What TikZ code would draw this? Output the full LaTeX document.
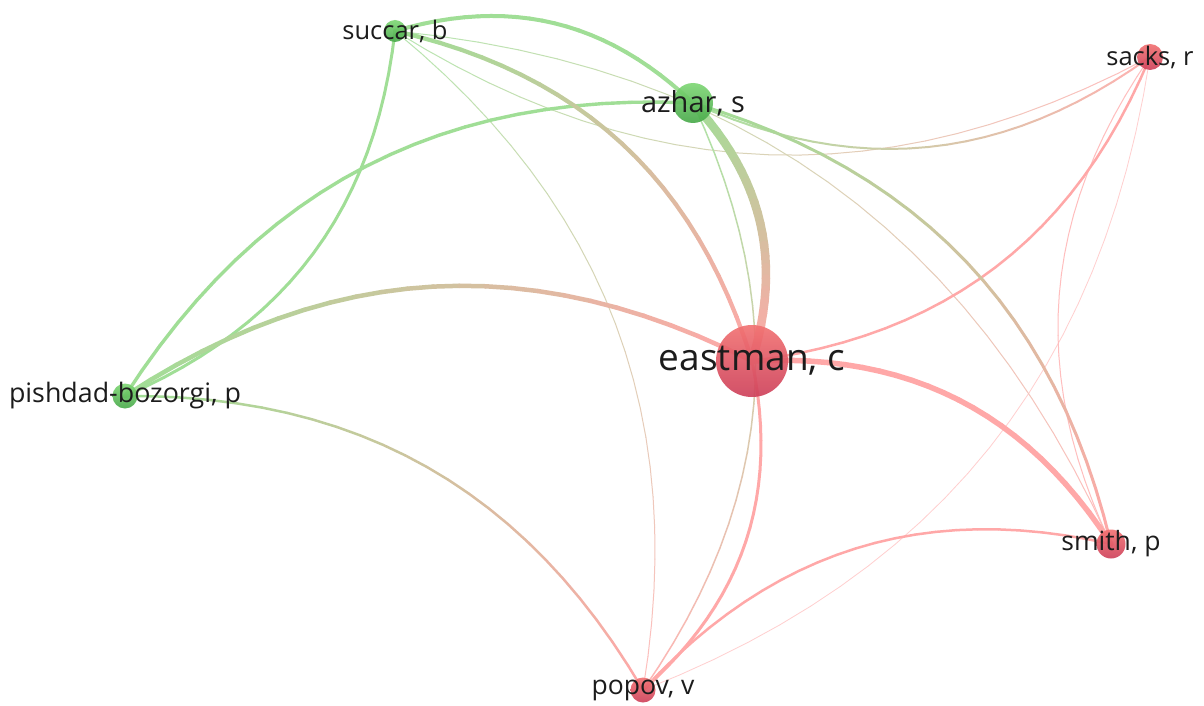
\documentclass[tikz,border=0pt]{standalone}
\usepackage{fontspec}
\setmainfont{Open Sans}
\definecolor{ge}{RGB}{160,222,150}
\definecolor{re}{RGB}{255,168,168}
\definecolor{gTop}{RGB}{125,214,115}
\definecolor{gBot}{RGB}{70,168,72}
\definecolor{rTop}{RGB}{242,112,112}
\definecolor{rBot}{RGB}{205,62,88}
\definecolor{lblc}{RGB}{28,28,28}
% a curved link drawn in short pieces so that its colour runs from one end to the other
% #1 source node, #2 target node, #3 line width, #4 source colour, #5 target colour, #6 tint
\newcommand\tie[6]{%
  \foreach \k [evaluate=\k as \tp using \k/24] in {0,...,24}{
    \path (#1.center) to[bend left=30] coordinate[pos=\tp] (q\k) (#2.center);
  }
  \foreach \k [evaluate=\k as \mx using {100-100*(\k+0.5)/24}, count=\n from 1] in {0,...,23}{
    \draw[line width=#3, line cap=round, color=#4!\mx!#5!#6!white] (q\k) -- (q\n);
  }
}
\begin{document}
\begin{tikzpicture}[x=1pt,y=-1pt,
  vnode/.style={circle, inner sep=0pt, minimum size=#1, fill opacity=0.9},
  gnode/.style={vnode=#1, top color=gTop, bottom color=gBot},
  rnode/.style={vnode=#1, top color=rTop, bottom color=rBot},
  lbl/.style={text=lblc, inner sep=0pt, font=\fontsize{#1}{#1}\selectfont},
]
\fill[white] (0,0) rectangle (1204,706);
\useasboundingbox (0,0) rectangle (1204,706);

% node positions
\coordinate (S) at (395,31);
\coordinate (A) at (693,103);
\coordinate (P) at (125,396);
\coordinate (E) at (752,361);
\coordinate (R) at (1150,57);
\coordinate (M) at (1111,544);
\coordinate (V) at (643,690);

% links
\tie{R}{V}{0.8}{re}{re}{55}
\tie{M}{R}{1}{re}{re}{75}
\tie{S}{V}{1}{ge}{re}{75}
\tie{R}{S}{1}{re}{ge}{75}
\tie{S}{M}{1}{ge}{re}{75}
\tie{A}{V}{1.5}{ge}{re}{85}
\tie{R}{A}{2}{re}{ge}{90}
\tie{S}{P}{3}{ge}{ge}{100}
\tie{P}{A}{3.4}{ge}{ge}{100}
\tie{P}{V}{2.5}{ge}{re}{100}
\tie{V}{M}{2.5}{re}{re}{100}
\tie{R}{E}{2.5}{re}{re}{100}
\tie{E}{V}{3}{re}{re}{100}
\tie{A}{M}{3}{ge}{re}{100}
\tie{S}{A}{4}{ge}{ge}{100}
\tie{S}{E}{4.2}{ge}{re}{100}
\tie{P}{E}{4.5}{ge}{re}{100}
\tie{E}{M}{5.5}{re}{re}{100}
\tie{A}{E}{8.5}{ge}{re}{100}

% nodes
\node[gnode=22pt] (Sn) at (S) {};
\node[gnode=40pt] (An) at (A) {};
\node[gnode=25pt] (Pn) at (P) {};
\node[rnode=72pt] (En) at (E) {};
\node[rnode=26pt] (Rn) at (R) {};
\node[rnode=29pt] (Mn) at (M) {};
\node[rnode=25pt] (Vn) at (V) {};

% labels
\node[lbl=25.5] (Sl) at (S) {succar, b};
\node[lbl=29] (Al) at (A) {azhar, s};
\node[lbl=26.8] (Pl) at (P) {pishdad-bozorgi, p};
\node[lbl=37] (El) at (E) {eastman, c};
\node[lbl=25.5] (Rl) at (R) {sacks, r};
\node[lbl=26.5] (Ml) at (M) {smith, p};
\node[lbl=26.5] (Vl) at (V) {popov, v};
\end{tikzpicture}
\end{document}
